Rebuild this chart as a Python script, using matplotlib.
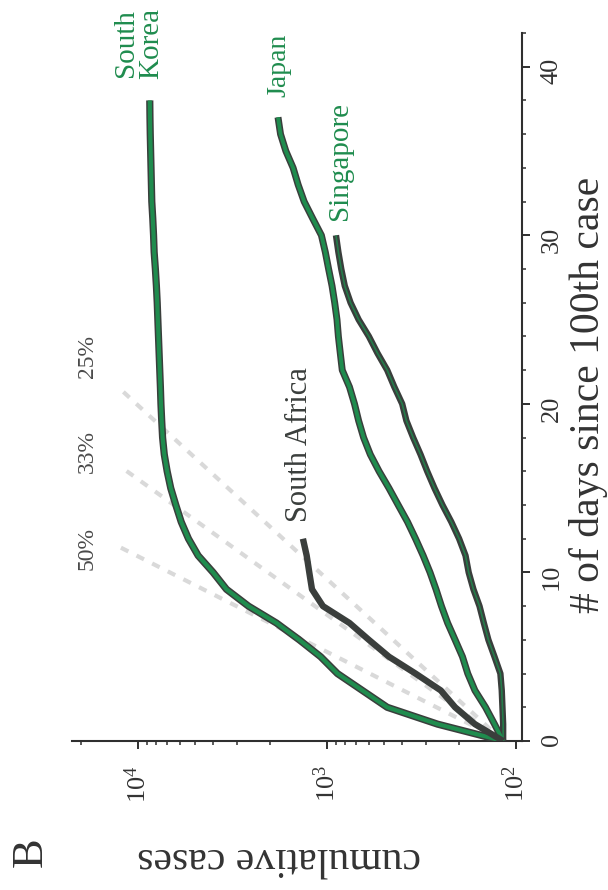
import matplotlib
matplotlib.use('Agg')
import matplotlib.pyplot as plt
from matplotlib.ticker import LogLocator, MultipleLocator, NullFormatter, LogFormatterMathtext

plt.rcParams['font.family'] = ['Liberation Serif', 'DejaVu Serif']
plt.rcParams['mathtext.fontset'] = 'custom'
plt.rcParams['mathtext.rm'] = 'Liberation Serif'
plt.rcParams['mathtext.it'] = 'Liberation Serif:italic'

# ---------------- data ----------------
sk_days = list(range(0, 39))
sk_cases = [117, 260, 480, 650, 880, 1080, 1400, 1850, 2600, 3400, 4000, 4800, 5400,
            5900, 6300, 6700, 7000, 7250, 7400, 7480, 7550, 7600, 7660, 7720, 7780,
            7840, 7900, 7980, 8080, 8200, 8260, 8340, 8440, 8480, 8520, 8560, 8600,
            8630, 8650]

jp_days = list(range(0, 38))
jp_cases = [117, 130, 145, 165, 180, 192, 210, 230, 248, 265, 285, 310, 340, 375, 420,
            470, 530, 590, 640, 680, 715, 760, 830, 850, 870, 885, 910, 940, 980, 1020,
            1070, 1190, 1320, 1420, 1510, 1650, 1760, 1815]

sg_days = list(range(0, 31))
sg_cases = [117, 117, 118, 119, 121, 130, 140, 148, 156, 168, 178, 185, 200, 220, 245,
            270, 295, 320, 350, 380, 400, 440, 480, 540, 600, 680, 750, 805, 840, 870, 896]

za_days = list(range(0, 13))
za_cases = [117, 165, 210, 250, 340, 470, 600, 760, 1050, 1200, 1240, 1280, 1340]

# growth-rate reference lines: straight on log scale, given by end points
ref_labels = ['50%', '33%', '25%']
ref_start = [(0, 117), (0, 117), (0, 117)]
ref_end = [(11.5, 12450), (16.3, 12450), (20.9, 12450)]
ref_label_days = [11.4, 17.2, 22.8]
ref_label_cases = [18500, 18500, 18500]

day_ticks = [0, 10, 20, 30, 40]

# ---------------- styling ----------------
GREEN = '#1f8c4e'
DARK = '#3a3e3c'
AXC = '#2f2f2f'
TXT = '#333333'

fig = plt.figure(figsize=(6.08, 8.90), dpi=100)
ax = fig.add_axes([72 / 608, 149 / 890, 450 / 608, 708 / 890])

ax.set_xscale('log')
ax.set_xlim(22300, 93)
ax.set_ylim(0, 42)

# reference dashed lines
for (d0, c0), (d1, c1) in zip(ref_start, ref_end):
    ax.plot([c0, c1], [d0, d1], color='#d9d9d9', lw=3.0,
            linestyle=(0, (2.0, 2.2)), solid_capstyle='butt', zorder=1)
for lab, d, c in zip(ref_labels, ref_label_days, ref_label_cases):
    ax.text(c, d, lab, rotation=90, ha='center', va='center', fontsize=17,
            color='#4a4a4a', zorder=2)

# curves
ax.plot(sk_cases, sk_days, color=DARK, lw=5.2, solid_capstyle='butt', zorder=3)
ax.plot(sk_cases, sk_days, color=GREEN, lw=3.0, solid_capstyle='butt', zorder=4)

ax.plot(jp_cases, jp_days, color=DARK, lw=5.0, solid_capstyle='butt', zorder=3)
ax.plot(jp_cases, jp_days, color=GREEN, lw=2.8, solid_capstyle='butt', zorder=4)

ax.plot(sg_cases, sg_days, color=DARK, lw=4.6, solid_capstyle='butt', zorder=3)
ax.plot(sg_cases, sg_days, color=GREEN, lw=1.2, alpha=0.8, solid_capstyle='butt', zorder=4)

ax.plot(za_cases, za_days, color=DARK, lw=4.6, solid_capstyle='butt', zorder=5)

# country labels
ax.text(9890, 41.4, 'South\nKorea', rotation=90, ha='center', va='center',
        fontsize=21, color=GREEN, linespacing=0.95, clip_on=False)
ax.text(1795, 40.1, 'Japan', rotation=90, ha='center', va='center',
        fontsize=20, color=GREEN, clip_on=False)
ax.text(853, 34.4, 'Singapore', rotation=90, ha='center', va='center',
        fontsize=21, color=GREEN, clip_on=False)
ax.text(1390, 17.6, 'South Africa', rotation=90, ha='center', va='center',
        fontsize=22, color=DARK, clip_on=False)

# axes / ticks
ax.spines['left'].set_visible(False)
ax.spines['top'].set_visible(False)
for s in ('right', 'bottom'):
    ax.spines[s].set_color(AXC)
    ax.spines[s].set_linewidth(1.5)

ax.yaxis.tick_right()
ax.yaxis.set_major_locator(MultipleLocator(10))
ax.yaxis.set_minor_locator(MultipleLocator(2))
ax.set_yticks(day_ticks)

ax.xaxis.set_major_locator(LogLocator(base=10))
ax.xaxis.set_major_formatter(LogFormatterMathtext())
ax.xaxis.set_minor_locator(LogLocator(base=10, subs=range(2, 10)))
ax.xaxis.set_minor_formatter(NullFormatter())

ax.tick_params(which='major', direction='out', length=5.5, width=1.4, color=AXC,
               labelsize=19, labelcolor=TXT)
ax.tick_params(which='minor', direction='out', length=3, width=1.1, color=AXC)
ax.tick_params(axis='y', which='both', right=True, left=False, labelright=True,
               labelleft=False)
ax.tick_params(axis='y', labelrotation=90, pad=8)
ax.tick_params(axis='x', labelrotation=90, pad=12)

# axis labels and panel letter
fig.text(588 / 608, 1 - 395 / 890, '# of days since 100th case', rotation=90,
         ha='center', va='center', fontsize=30, color=TXT)
fig.text(279 / 608, 1 - 858 / 890, 'cumulative cases', rotation=180,
         ha='center', va='center', fontsize=30, color=TXT)
fig.text(31 / 608, 1 - 852 / 890, 'B', rotation=90, ha='center', va='center',
         fontsize=32, color=TXT)

fig.savefig('out.png', dpi=100, facecolor='white')
